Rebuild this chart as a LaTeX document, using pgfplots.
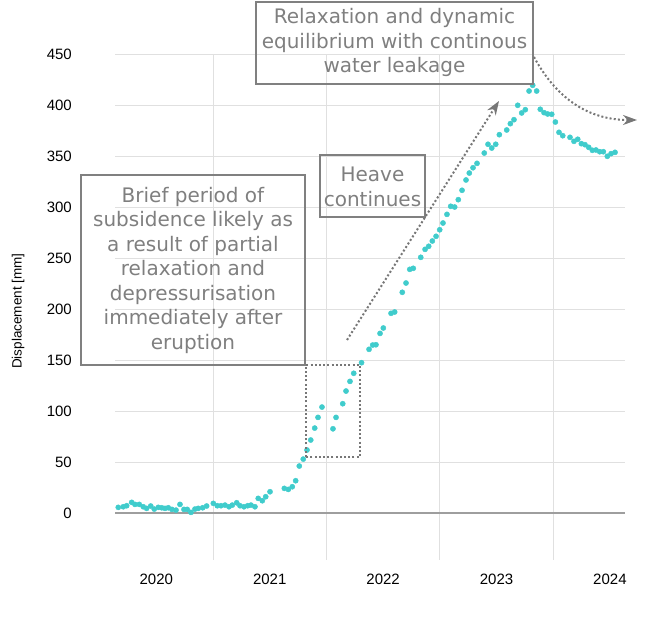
\documentclass[border=0pt]{standalone}
\usepackage{pgfplots}
\pgfplotsset{compat=1.18}
\usepackage{fontspec}
\setmainfont{Liberation Sans}
\newfontfamily\annfont{DejaVu Sans}
\usetikzlibrary{arrows.meta}
\definecolor{pts}{HTML}{40CCCC}
\definecolor{boxgray}{HTML}{808080}
\definecolor{txtgray}{HTML}{7F7F7F}
\definecolor{dotgray}{HTML}{777777}

\begin{document}
\begin{tikzpicture}
\path[use as bounding box] (0pt,0pt) rectangle (647pt,617pt);
\begin{axis}[
  at={(115pt,57pt)}, anchor=south west,
  scale only axis, width=510pt, height=506pt,
  xmin=2020.136, xmax=2024.633,
  ymin=-46, ymax=450,
  xtick={2020.5,2021.5,2022.5,2023.5,2024.5},
  xticklabels={2020,2021,2022,2023,2024},
  minor xtick={2021,2022,2023,2024},
  xmajorgrids=false, xminorgrids=true, ymajorgrids=true,
  ytick={0,50,...,450},
  extra y ticks={0}, extra y tick labels={},
  extra y tick style={major grid style={draw=black!38, line width=1.2pt}},
  major grid style={draw=black!12, line width=0.8pt},
  minor grid style={draw=black!12, line width=0.8pt},
  axis line style={draw=none},
  major tick style={draw=none}, minor tick style={draw=none},
  /pgf/number format/assume math mode=true,
  tick label style={font=\fontsize{15}{18}\selectfont},
  yticklabel style={anchor=east, inner sep=0pt, xshift=-43pt},
  xticklabel style={anchor=north, inner sep=0pt, yshift=-13.5pt},
  ylabel={Displacement [mm]},
  ylabel style={font=\fontsize{13.5}{16}\selectfont, at={(axis description cs:-0.19,0.492)}, anchor=center},
  clip=false,
]
\addplot[only marks, mark=*, mark size=2.6pt, color=pts] coordinates {
(2020.165,5.6) (2020.209,6.2) (2020.239,7.2) (2020.283,10.5) (2020.312,8.5)
(2020.350,8.5) (2020.385,6.2) (2020.415,4.6) (2020.451,6.9) (2020.482,3.9)
(2020.518,5.6) (2020.548,5.2) (2020.577,4.6) (2020.606,5.2) (2020.638,3.6)
(2020.674,2.9) (2020.709,8.5) (2020.744,3.6) (2020.773,3.6) (2020.806,0.7)
(2020.841,3.9) (2020.870,4.6) (2020.909,5.2) (2020.944,6.9) (2021.003,9.5)
(2021.038,7.2) (2021.071,7.2) (2021.106,7.8) (2021.141,6.2) (2021.170,7.8)
(2021.209,10.1) (2021.238,7.2) (2021.273,6.2) (2021.306,7.2) (2021.335,7.8)
(2021.370,6.2) (2021.399,14.4) (2021.435,12.1) (2021.465,16.0) (2021.503,20.9)
(2021.629,24.2) (2021.664,23.2) (2021.699,25.8) (2021.729,31.7) (2021.761,46.1)
(2021.796,52.9) (2021.829,61.8) (2021.862,71.6) (2021.897,83.3) (2021.926,93.8)
(2021.961,103.9) (2022.058,82.6) (2022.085,93.8) (2022.144,107.2) (2022.173,119.6)
(2022.208,129.1) (2022.241,137.0) (2022.310,147.4) (2022.376,160.5) (2022.408,164.7)
(2022.437,165.0) (2022.473,176.1) (2022.502,181.4) (2022.570,195.8) (2022.602,197.1)
(2022.669,216.4) (2022.702,225.5) (2022.735,238.9) (2022.766,239.9) (2022.832,250.7)
(2022.870,258.5) (2022.902,261.5) (2022.934,266.7) (2022.967,271.3) (2022.999,277.7)
(2023.028,284.3) (2023.063,292.8) (2023.096,300.7) (2023.131,300.0) (2023.163,307.2)
(2023.196,316.4) (2023.231,326.5) (2023.260,333.3) (2023.293,338.5) (2023.328,342.8)
(2023.392,352.9) (2023.425,361.5) (2023.458,357.8) (2023.493,361.5) (2023.525,370.9)
(2023.590,375.5) (2023.622,381.7) (2023.654,385.6) (2023.687,399.7) (2023.722,392.2)
(2023.754,395.4) (2023.787,413.7) (2023.819,419.3) (2023.854,413.7) (2023.886,395.8)
(2023.919,392.5) (2023.951,391.2) (2023.987,390.9) (2024.019,383.3) (2024.051,373.2)
(2024.084,369.9) (2024.148,368.3) (2024.183,364.4) (2024.216,366.4) (2024.248,362.1)
(2024.280,361.1) (2024.313,358.5) (2024.345,355.6) (2024.377,355.9) (2024.410,354.2)
(2024.442,354.2) (2024.477,349.7) (2024.510,352.3) (2024.545,353.6)
};
\end{axis}

\begin{scope}[x=1pt, y=1pt,
  ann/.style={text=txtgray, align=center, inner sep=0pt,
    font=\annfont\fontsize{20}{24.5}\selectfont}]
% annotation boxes
\draw[boxgray, line width=2pt] (81,252) rectangle (305,442);
\node[ann] at (193,347) {Brief period of\\subsidence likely as\\a result of partial\\relaxation and\\depressurisation\\immediately after\\eruption};
\draw[boxgray, line width=2pt] (320,400) rectangle (425,462);
\node[ann] at (372.5,430) {Heave\\continues};
\draw[boxgray, line width=2pt] (256,533) rectangle (533,615);
\node[ann] at (394.5,574.5) {Relaxation and dynamic\\equilibrium with continous\\water leakage};
% dotted guides
\draw[dotgray, line width=2pt, dash pattern=on 2pt off 2.2pt] (306,160) rectangle (360,252);
\draw[dotgray, line width=2pt, dash pattern=on 2pt off 2.2pt,
  -{Stealth[length=14pt,width=10pt]}] (347,277) -- (499,516);
\draw[dotgray, line width=2pt, dash pattern=on 2pt off 2.2pt,
  -{Stealth[length=14pt,width=10pt]}] (534,560) .. controls (560,512) and (595,497) .. (637,497);
\end{scope}
\end{tikzpicture}
\end{document}
